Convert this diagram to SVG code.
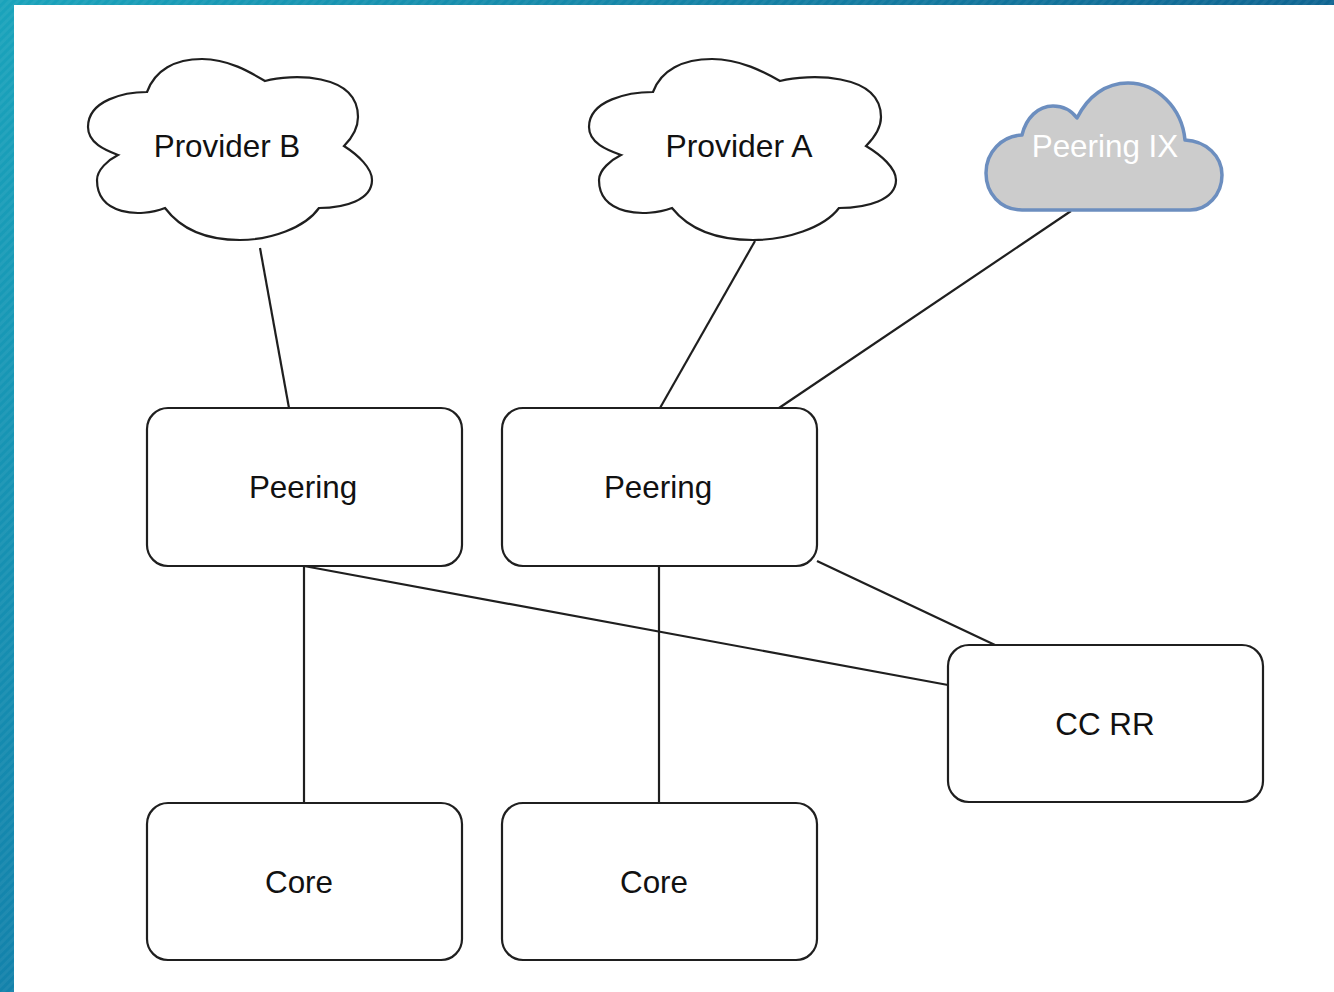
<svg xmlns="http://www.w3.org/2000/svg" width="1334" height="992" viewBox="0 0 1334 992">
<style>
.shape{fill:#fff;stroke:#1f1f1f;stroke-width:2.2}
.label{font-family:"Liberation Sans",Arial,sans-serif;font-size:31.4px;fill:#111;text-anchor:middle}
#connectors line{stroke:#1f1f1f;stroke-width:2.2}
</style>
<defs>
<linearGradient id="bg" gradientUnits="userSpaceOnUse" x1="0" y1="0" x2="1334" y2="200">
<stop offset="0" stop-color="#1aa3bb"/>
<stop offset="1" stop-color="#0f6390"/>
</linearGradient>
<linearGradient id="left" x1="0" y1="0" x2="0" y2="1">
<stop offset="0" stop-color="#1aa3bb"/>
<stop offset="1" stop-color="#1382ab"/>
</linearGradient>
<pattern id="stripes" width="6" height="6" patternUnits="userSpaceOnUse" patternTransform="rotate(45)">
<rect width="3" height="6" fill="#fff" fill-opacity="0.05"/>
</pattern>
</defs>
<g id="background">
<rect x="0" y="0" width="1334" height="5" fill="url(#bg)"/>
<rect x="0" y="0" width="14" height="992" fill="url(#left)"/>
<rect x="0" y="0" width="1334" height="5" fill="url(#stripes)"/>
<rect x="0" y="5" width="14" height="987" fill="url(#stripes)"/>
<rect x="14" y="5" width="1320" height="987" fill="#fff"/>
</g>
<g id="connectors">
<line x1="260" y1="248" x2="289" y2="408"/>
<line x1="755" y1="241" x2="660" y2="408"/>
<line x1="1071" y1="211" x2="779" y2="408"/>
<line x1="304" y1="566" x2="304" y2="803"/>
<line x1="659" y1="566" x2="659" y2="803"/>
<line x1="304" y1="566" x2="948" y2="685"/>
<line x1="817" y1="561" x2="995" y2="645"/>
</g>
<g id="provider-b">
<path class="shape" d="M147 92C155 70 175 59 202 59C228 59 250 72 265 81C290 74 358 72 358 117C358 130 350 140 344 146C358 155 372 168 372 180C372 200 345 208 319 208C305 228 270 240 240 240C205 240 180 228 165 208C140 218 97 215 97 180C97 170 108 160 118 155C105 150 88 143 88 127C88 100 125 92 147 92Z"/>
<text class="label" x="227" y="157">Provider B</text>
</g>
<g id="provider-a">
<path class="shape" d="M653 92C661 70 683 59 712 59C740 59 764 72 780 81C807 74 881 72 881 117C881 130 872 140 866 146C881 155 896 168 896 180C896 200 867 208 839 208C824 228 786 240 753 240C715 240 688 228 672 208C645 218 599 215 599 180C599 170 611 160 621 155C607 150 589 143 589 127C589 100 629 92 653 92Z"/>
<text class="label" x="739" y="157" textLength="147" lengthAdjust="spacingAndGlyphs">Provider A</text>
</g>
<g id="peering-ix">
<path d="M1022 210C1000 210 986 193 986 173C986 152 1002 136 1022 135C1026 118 1038 106 1053 106C1063 106 1071 110 1077 118C1088 96 1106 83 1128 83C1157 83 1182 108 1185 140C1206 141 1222 156 1222 175C1222 195 1207 210 1190 210Z" fill="#ccc" stroke="#6c8ebf" stroke-width="3.5" stroke-linejoin="round"/>
<text class="label" x="1105" y="157" style="fill:#fff">Peering IX</text>
</g>
<g id="peering-1">
<rect class="shape" x="147" y="408" width="315" height="158" rx="21"/>
<text class="label" x="303" y="498">Peering</text>
</g>
<g id="peering-2">
<rect class="shape" x="502" y="408" width="315" height="158" rx="21"/>
<text class="label" x="658" y="498">Peering</text>
</g>
<g id="cc-rr">
<rect class="shape" x="948" y="645" width="315" height="157" rx="21"/>
<text class="label" x="1105" y="735">CC RR</text>
</g>
<g id="core-1">
<rect class="shape" x="147" y="803" width="315" height="157" rx="21"/>
<text class="label" x="299" y="893">Core</text>
</g>
<g id="core-2">
<rect class="shape" x="502" y="803" width="315" height="157" rx="21"/>
<text class="label" x="654" y="893">Core</text>
</g>
</svg>
